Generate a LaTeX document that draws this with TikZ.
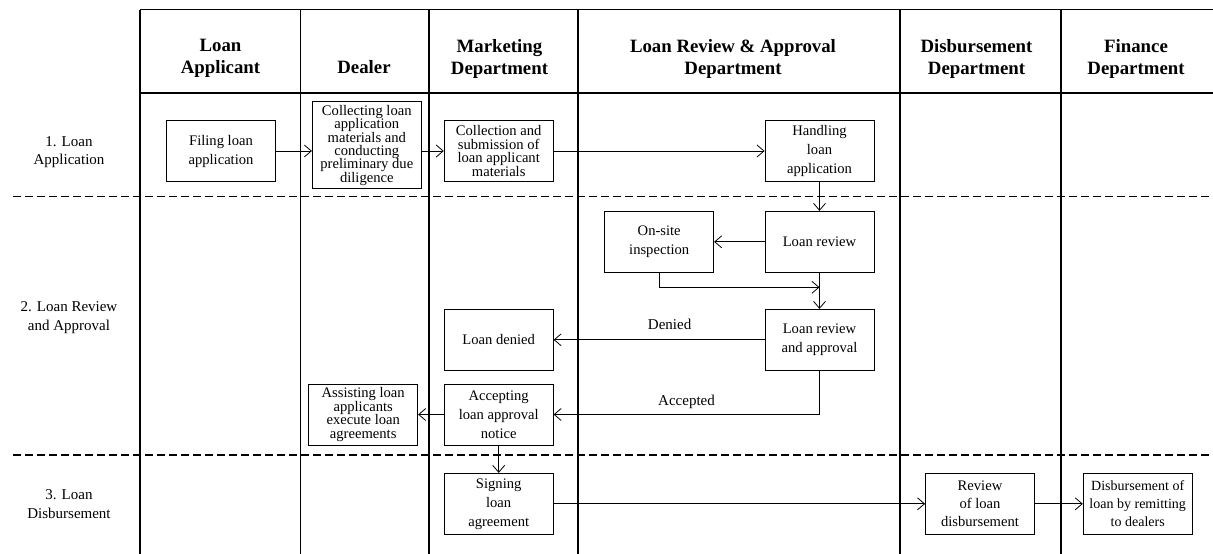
\documentclass[tikz,border=0pt]{standalone}
\usepackage{fontspec}
\setmainfont{Liberation Serif}
\usetikzlibrary{arrows.meta}

\begin{document}
\begin{tikzpicture}[x=1pt,y=-1pt,
    box/.style={draw,line width=0.8pt,minimum width=109pt,minimum height=61pt,inner sep=1pt,align=center,font=\fontsize{14.6}{19}\selectfont},
    tight/.style={font=\fontsize{14.6}{13.4}\selectfont},
    head/.style={align=center,font=\bfseries\fontsize{18.8}{22}\selectfont},
    phase/.style={align=center,font=\fontsize{15}{18.6}\selectfont},
    lane/.style={line width=1.4pt},
    split/.style={line width=1.4pt,dash pattern=on 7.5pt off 4.5pt},
    >={Straight Barb[length=7pt,width=12pt]}]
  \useasboundingbox (0,0) rectangle (1213,554);
  % swimlanes
  \draw[line width=1.2pt] (140,9.5) -- (1213,9.5) (140,93) -- (1213,93);
  \foreach \x in {140,429,578,900,1061}
    \draw[lane] (\x,9.5) -- (\x,554);
  \draw[lane,line width=1pt] (300.5,9.5) -- (300.5,554);
  \draw[split] (13,196.5) -- (1213,196.5);
  \draw[split] (13,455) -- (1213,455);
  % headers
  \node[head] (applicant) at (220.5,58.5) {Loan\\Applicant};
  \node[head] (dealer) at (364,67.3) {Dealer};
  \node[head] (marketing) at (499.5,58.5) {Marketing\\Department};
  \node[head] (approvaldept) at (733,58.5) {Loan Review \& Approval\\Department};
  \node[head] (disbdept) at (976.5,58.5) {Disbursement\\Department};
  \node[head] (finance) at (1136,58.5) {Finance\\Department};
  % phases
  \node[phase] (p1) at (69,152) {1. Loan\\Application};
  \node[phase] (p2) at (69,317.5) {2. Loan Review\\and Approval};
  \node[phase] (p3) at (69,504) {3. Loan\\Disbursement};
  % steps
  \node[box] (filing) at (221,151) {Filing loan\\application};
  \node[box,tight,minimum height=87pt] (collecting) at (366.8,145.3) {Collecting loan\\application\\materials and\\conducting\\preliminary due\\diligence};
  \node[box,tight] (collection) at (498.7,151) {Collection and\\submission of\\loan applicant\\materials};
  \node[box] (handling) at (819.5,151) {Handling\\loan\\application};
  \node[box] (onsite) at (659.2,241.8) {On-site\\inspection};
  \node[box] (review) at (819.5,241.8) {Loan review};
  \coordinate (join) at (819.5,287.3);
  \node[box] (approval) at (819.5,339.8) {Loan review\\and approval};
  \node[box] (denied) at (498.7,339.8) {Loan denied};
  \node[box] (accepting) at (498.7,414.5) {Accepting\\loan approval\\notice};
  \node[box,tight] (assisting) at (363.2,414.5) {Assisting loan\\applicants\\execute loan\\agreements};
  \node[box] (signing) at (498.7,503.8) {Signing\\loan\\agreement};
  \node[box,font=\fontsize{14.6}{17.8}\selectfont] (checking) at (980,503.8) {Review\\of loan\\disbursement};
  \node[box,font=\fontsize{14}{17.8}\selectfont] (remitting) at (1137.7,503.8) {Disbursement of\\loan by remitting\\to dealers};
  \begin{scope}[->,line width=0.8pt,font=\fontsize{15}{18}\selectfont]
    \draw (filing.east) -- (filing.east -| collecting.west);
    \draw (collecting.east |- collection.west) -- (collection.west);
    \draw (collection) -- (handling);
    \draw (handling) -- (review);
    \draw (review) -- (onsite);
    \draw (onsite.south) |- (join);
    \draw (review) -- (approval);
    \draw (approval) -- node[above=6.5pt,pos=0.45]{Denied} (denied);
    \draw (approval.south) |- node[above=1.8pt,pos=0.75]{Accepted} (accepting.east);
    \draw (accepting) -- (assisting);
    \draw (accepting) -- (signing);
    \draw (signing) -- (checking);
    \draw (checking) -- (remitting);
  \end{scope}
\end{tikzpicture}
\end{document}
